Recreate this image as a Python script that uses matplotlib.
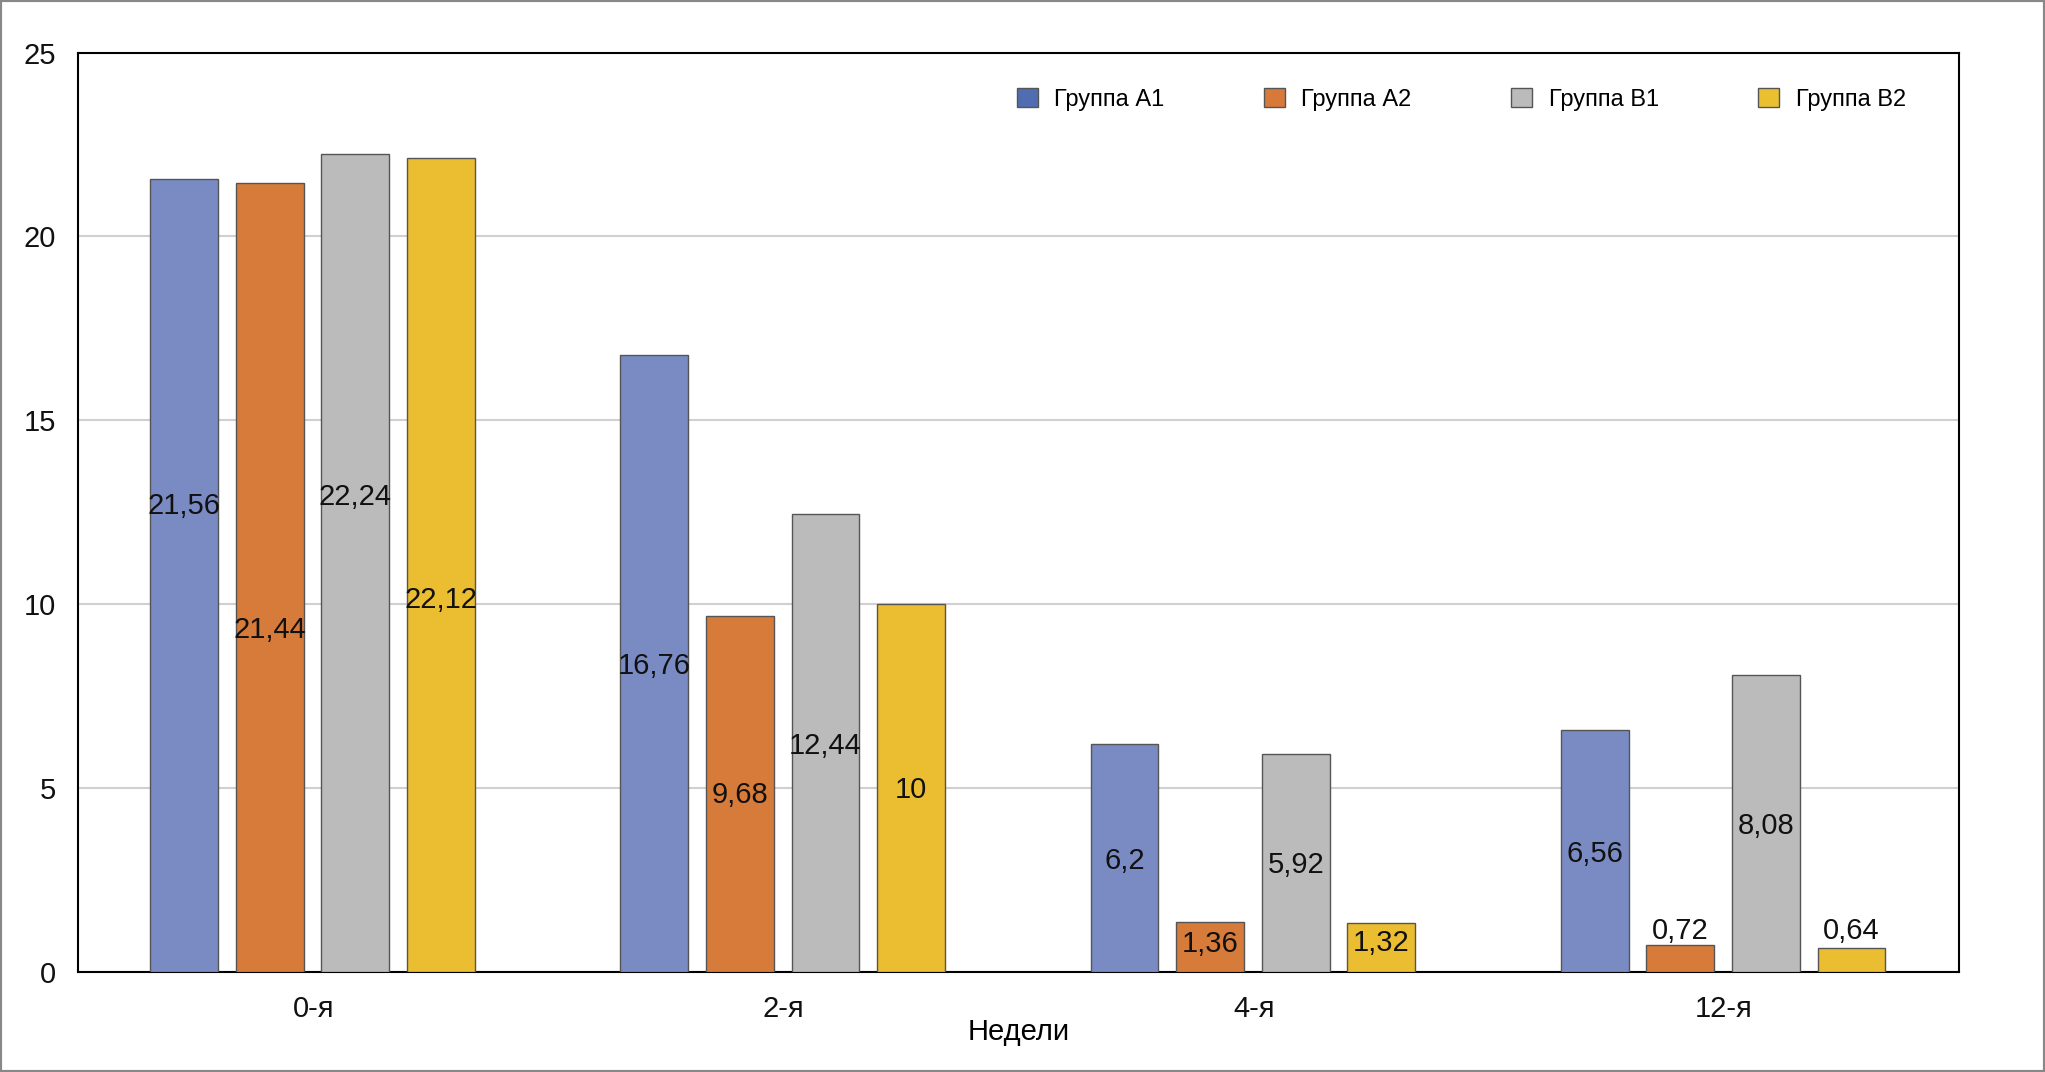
import numpy as np
import matplotlib.pyplot as plt
from matplotlib.patches import Patch, Rectangle
from matplotlib import font_manager

weeks = ["0-я", "2-я", "4-я", "12-я"]
groups = ["Группа А1", "Группа А2", "Группа В1", "Группа В2"]
a1 = [21.56, 16.76, 6.2, 6.56]
a2 = [21.44, 9.68, 1.36, 0.72]
b1 = [22.24, 12.44, 5.92, 8.08]
b2 = [22.12, 10.0, 1.32, 0.64]

# where each value label sits (data units), as in the source picture
label_y = [
    [12.66, 8.3, 3.01, 3.19],
    [9.29, 4.79, 0.74, 1.1],
    [12.9, 6.13, 2.9, 3.97],
    [10.1, 4.93, 0.78, 1.1],
]

bar_colors = ["#7a8bc4", "#d67b3a", "#bbbbbb", "#ebbd30"]
legend_colors = ["#4f6db0", "#d6793b", "#bbbbbb", "#ebc030"]

names = {f.name for f in font_manager.fontManager.ttflist}
family = ["Liberation Sans Narrow", "Liberation Sans", "DejaVu Sans"]
family = [f for f in family if f in names] or ["DejaVu Sans"]
plt.rcParams["font.family"] = family


def fmt(v):
    s = f"{v:.2f}".rstrip("0").rstrip(".")
    return s.replace(".", ",")


fig = plt.figure(figsize=(20.45, 10.72), dpi=100)
ax = fig.add_axes([0.0383, 0.0937, 0.9197, 0.8573])

x = np.arange(len(weeks))
offsets = [-0.273, -0.091, 0.091, 0.273]
width = 0.144
series = [a1, a2, b1, b2]
for i, vals in enumerate(series):
    ax.bar(x + offsets[i] - 0.002, vals, width, color=bar_colors[i],
           edgecolor="#555555", linewidth=1.0, zorder=3)
    for j, v in enumerate(vals):
        ax.text(x[j] + offsets[i] - 0.002, label_y[i][j], fmt(v), ha="center", va="center",
                fontsize=21, color="#111111", zorder=4)

ax.set_xlim(-0.5, 3.5)
ax.set_ylim(0, 25)
ax.set_yticks([0, 5, 10, 15, 20, 25])
ax.set_yticklabels(["0", "5", "10", "15", "20", "25"])
ax.set_xticks(x)
ax.set_xticklabels(weeks)
ax.tick_params(axis="both", length=0, labelsize=21, colors="#111111")
ax.tick_params(axis="y", pad=16)
ax.tick_params(axis="x", pad=17)
ax.yaxis.grid(True, color="#d0d0d0", linewidth=1.5, zorder=0)
ax.set_axisbelow(True)
for sp in ax.spines.values():
    sp.set_color("black")
    sp.set_linewidth(1.5)
ax.set_xlabel("Недели", fontsize=21, labelpad=-4)

handles = [Patch(facecolor=c, edgecolor="#555555", linewidth=1.0) for c in legend_colors]
ax.legend(handles, groups, loc="upper right", bbox_to_anchor=(0.983, 0.985), ncol=4,
          frameon=False, fontsize=17, columnspacing=4.2, handlelength=0.9,
          handleheight=0.9, handletextpad=0.7)

fig.patches.append(Rectangle((0, 0), 1, 1, transform=fig.transFigure, fill=False,
                             edgecolor="#888888", linewidth=3))

fig.savefig("out.png", dpi=100)
